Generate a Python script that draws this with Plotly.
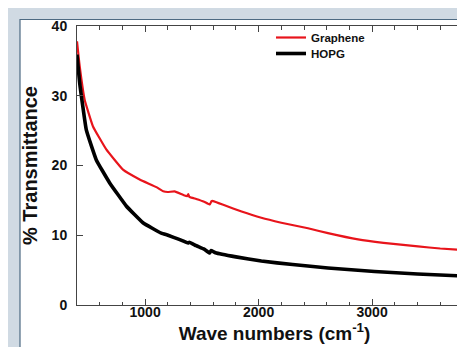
import plotly.graph_objects as go

graphene_x = [400, 424, 468, 541, 658, 805, 952, 1100, 1160, 1200, 1260, 1334, 1370, 1380, 1390,
              1450, 1520, 1570, 1585, 1600, 1700, 1850, 2024, 2200, 2435, 2611, 2876, 3100, 3404, 3600, 3874]
graphene_y = [37.8, 34.2, 29.4, 25.6, 22.3, 19.4, 18.0, 16.9, 16.3, 16.2, 16.3, 15.8, 15.6, 15.9, 15.5,
              15.2, 14.8, 14.4, 14.9, 14.9, 14.3, 13.4, 12.5, 11.8, 11.0, 10.3, 9.4, 8.9, 8.4, 8.1, 7.8]

hopg_x = [400, 424, 482, 570, 688, 834, 981, 1143, 1202, 1300, 1378, 1390, 1450, 1520, 1569, 1580,
          1620, 1800, 2024, 2300, 2611, 3022, 3400, 3874]
hopg_y = [35.9, 31.8, 25.1, 20.8, 17.5, 14.2, 11.8, 10.3, 10.0, 9.4, 8.9, 9.0, 8.5, 8.0, 7.45, 7.8,
          7.5, 6.9, 6.3, 5.8, 5.3, 4.8, 4.45, 4.1]

x_ticks = [1000, 2000, 3000]
y_ticks = [0, 10, 20, 30, 40]

FONT = "Liberation Sans, Arial, sans-serif"

fig = go.Figure()
fig.add_trace(go.Scatter(x=graphene_x, y=graphene_y, mode="lines", name="Graphene", legend="legend",
                         line=dict(color="#e8141b", width=2.2, shape="spline", smoothing=0.3)))
fig.add_trace(go.Scatter(x=hopg_x, y=hopg_y, mode="lines", name="HOPG", legend="legend2",
                         line=dict(color="#000000", width=3.6, shape="spline", smoothing=0.3)))

W, H = 465, 347
L, R, T, B = 69, 1, 18, 50
pw, ph = W - L - R, H - T - B

def px(xp):
    return (xp - L) / pw

def py(yp):
    return (H - B - yp) / ph

fig.add_shape(type="rect", xref="paper", yref="paper",
              x0=px(12), x1=px(480), y0=py(360), y1=py(11.5),
              fillcolor="white", line=dict(color="#4d6a82", width=1.2), layer="below")

axis_common = dict(
    showline=True, linecolor="#444444", linewidth=1, mirror="allticks",
    ticks="inside", tickcolor="#444444", ticklen=6, tickwidth=1,
    showgrid=False, zeroline=False,
    tickfont=dict(family=FONT, size=14, color="#111111", weight="bold"),
)

fig.update_xaxes(range=[400, 3880], tickvals=x_ticks, ticklabelstandoff=-6,
                 minor=dict(dtick=200, tick0=0, ticks="inside", ticklen=3.5, tickcolor="#444444", showgrid=False),
                 title=dict(text="Wave numbers (cm<sup>-1</sup>)", standoff=0,
                            font=dict(family=FONT, size=19, color="#111111", weight="bold")),
                 **axis_common)
fig.update_yaxes(range=[0, 40], tickvals=y_ticks, ticklabelstandoff=6,
                 title=dict(text="% Transmittance", standoff=8,
                            font=dict(family=FONT, size=20, color="#111111", weight="bold")),
                 **axis_common)

leg_common = dict(xanchor="left", yanchor="top", bgcolor="rgba(0,0,0,0)", borderwidth=0,
                  font=dict(family=FONT, size=11.5, color="#111111", weight="bold"), itemwidth=30)

fig.update_layout(
    width=W, height=H,
    margin=dict(l=L, r=R, t=T, b=B),
    paper_bgcolor="#d0dae3",
    plot_bgcolor="white",
    showlegend=True,
    legend=dict(x=px(263), y=py(15), **leg_common),
    legend2=dict(x=px(263), y=py(31), **leg_common),
)

fig.write_html("out.html")
